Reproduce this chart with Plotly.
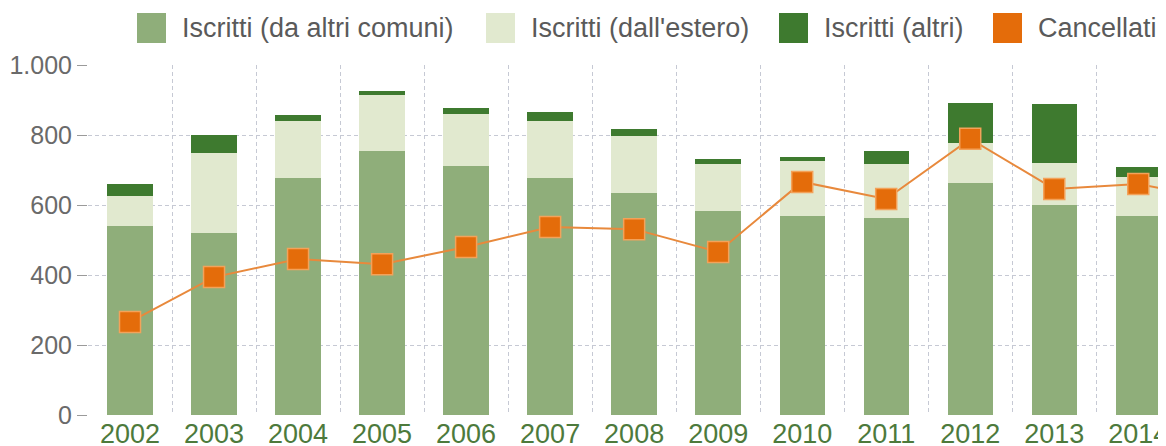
import plotly.graph_objects as go

years = ["2002", "2003", "2004", "2005", "2006", "2007", "2008", "2009",
         "2010", "2011", "2012", "2013", "2014", "2015"]
iscritti_comuni = [540, 520, 677, 754, 711, 677, 634, 583, 569, 563, 663, 600, 569, None]
iscritti_estero = [86, 229, 163, 160, 149, 163, 163, 134, 157, 154, 114, 120, 111, None]
iscritti_altri = [34, 51, 17, 12, 17, 26, 20, 14, 11, 37, 114, 169, 29, None]
cancellati = [266, 394, 446, 431, 480, 537, 531, 466, 666, 617, 789, 646, 660, 615]

names = ["Iscritti (da altri comuni)", "Iscritti (dall'estero)", "Iscritti (altri)",
         "Cancellati dall'anagrafe"]
colors = ["#8fae7a", "#e1e9cf", "#3e7a2f", "#e46c0a"]

fig = go.Figure()
for vals, nm, col in zip([iscritti_comuni, iscritti_estero, iscritti_altri], names[:3], colors[:3]):
    fig.add_trace(go.Bar(x=years, y=vals, name=nm, marker=dict(color=col, line=dict(width=0)),
                         showlegend=False))
fig.add_trace(go.Scatter(x=years, y=cancellati, name=names[3], mode="lines+markers",
                         line=dict(color="#e8893c", width=2),
                         marker=dict(symbol="square", size=21, color=colors[3],
                                     line=dict(color="#f3a25a", width=1.5)),
                         showlegend=False, cliponaxis=True))

# page body has an 8px margin: compensate so the plot lands where the reference has it
OFF = 8
W, H = 1166, 446
L, T = 88 - OFF, 65 - OFF
R = OFF
ph = 350
B = H - T - ph
pw = W - L - R

sw_x = [137, 486, 779, 993]
tx_x = [182, 531, 824, 1038]
for sx, tx, nm, col in zip(sw_x, tx_x, names, colors):
    fig.add_shape(type="rect", xref="paper", yref="paper",
                  x0=(sx - OFF - L) / pw, x1=(sx - OFF + 29 - L) / pw,
                  y0=(T + ph - (43 - OFF)) / ph, y1=(T + ph - (13 - OFF)) / ph,
                  fillcolor=col, line=dict(width=0))
    fig.add_annotation(xref="paper", yref="paper", x=(tx - OFF - L) / pw,
                       y=(T + ph - (28 - OFF)) / ph,
                       text=nm, showarrow=False, xanchor="left", yanchor="middle",
                       xshift=-2,
                       font=dict(size=27, color="#5a5a5a"))

grid_col = "#c6c9d4"
fig.update_layout(
    width=W, height=H,
    margin=dict(l=L, r=R, t=T, b=B),
    barmode="stack", bargap=0.46,
    plot_bgcolor="white", paper_bgcolor="white",
    separators=",.",
    font=dict(family="Liberation Sans, Arial, sans-serif"),
    showlegend=False,
)
fig.update_xaxes(type="category", range=[-0.5, 12.33], tickson="boundaries",
                 showgrid=True, gridcolor=grid_col, griddash="4px,3px", gridwidth=1,
                 ticks="", showline=False, zeroline=False, automargin=False,
                 tickfont=dict(size=27, color="#4d7a3c"))
fig.update_yaxes(range=[0, 1000], tickvals=[0, 200, 400, 600, 800, 1000],
                 tickformat=",d", showgrid=True, gridcolor=grid_col, griddash="4px,3px",
                 gridwidth=1, zeroline=False, showline=False, automargin=False,
                 ticks="outside", ticklen=10, tickcolor="#9a9a9a",
                 tickfont=dict(size=25, color="#6a6a6a"))

fig.write_html("out.html")
